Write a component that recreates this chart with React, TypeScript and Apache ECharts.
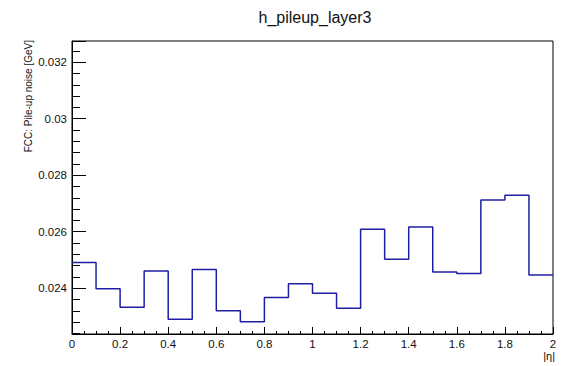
import React, { useEffect, useRef } from "react";
import * as echarts from "echarts";

const title = "h_pileup_layer3";
const yAxisTitle = "FCC: Pile-up noise [GeV]";
const xAxisTitle = "|η|";

// lower edges of the 20 |eta| bins (width 0.1)
const binLowEdges = [0, 0.1, 0.2, 0.3, 0.4, 0.5, 0.6, 0.7, 0.8, 0.9, 1.0, 1.1, 1.2, 1.3, 1.4, 1.5, 1.6, 1.7, 1.8, 1.9];
const binUpperEnd = 2;
const binValues = [
  0.02491, 0.02398, 0.02333, 0.02461, 0.0229, 0.02466, 0.0232, 0.02281, 0.02367, 0.02416,
  0.02382, 0.02329, 0.02609, 0.02503, 0.02617, 0.02457, 0.02452, 0.02712, 0.02729, 0.02447,
];

const yMin = 0.02238;
const yMax = 0.03275;

export default function App() {
  const ref = useRef<HTMLDivElement>(null);
  useEffect(() => {
    document.body.style.margin = "0";
    if (!ref.current) return;
    const chart = echarts.init(ref.current, undefined, { renderer: "svg" });
    const stepData: [number, number][] = binLowEdges.map((x, i) => [x, binValues[i]]);
    stepData.push([binUpperEnd, binValues[binValues.length - 1]]);
    const font = "Liberation Sans, Arial, Helvetica, sans-serif";
    chart.setOption({
      animation: false,
      backgroundColor: "#ffffff",
      title: {
        text: title,
        left: 310,
        top: 4,
        textAlign: "center",
        textStyle: { fontFamily: font, fontSize: 16, fontWeight: "normal", color: "#111" },
      },
      grid: {
        left: 72,
        right: 11,
        top: 41,
        bottom: 32,
        show: true,
        borderColor: "#000",
        borderWidth: 1,
        backgroundColor: "transparent",
      },
      xAxis: {
        type: "value",
        min: 0,
        max: 2,
        interval: 0.2,
        axisLine: { show: true, onZero: false, lineStyle: { color: "#000", width: 1 } },
        axisTick: { show: true, inside: true, length: 7, lineStyle: { color: "#000" } },
        minorTick: { show: true, splitNumber: 4, length: 3, lineStyle: { color: "#000" } },
        splitLine: { show: false },
        minorSplitLine: { show: false },
        axisLabel: {
          margin: 4,
          fontFamily: font,
          fontSize: 11.5,
          color: "#111",
          formatter: (v: number) => String(Math.round(v * 10) / 10),
        },
      },
      yAxis: {
        type: "value",
        min: yMin,
        max: yMax,
        splitNumber: 5,
        axisLine: { show: true, onZero: false, lineStyle: { color: "#000", width: 1 } },
        axisTick: { show: true, inside: true, length: 14, lineStyle: { color: "#000" } },
        minorTick: { show: true, splitNumber: 5, length: 8, lineStyle: { color: "#000" } },
        splitLine: { show: false },
        minorSplitLine: { show: false },
        axisLabel: {
          margin: 5,
          showMinLabel: false,
          showMaxLabel: false,
          fontFamily: font,
          fontSize: 11.5,
          color: "#111",
          formatter: (v: number) => String(Math.round(v * 1000) / 1000),
        },
      },
      graphic: [
        {
          type: "text",
          x: 28,
          y: 40,
          rotation: Math.PI / 2,
          style: {
            text: yAxisTitle,
            fontFamily: font,
            fontSize: 10,
            fill: "#111",
            textAlign: "right",
            textVerticalAlign: "middle",
          },
        },
        {
          type: "text",
          x: 555,
          y: 356,
          style: {
            text: xAxisTitle,
            fontFamily: font,
            fontSize: 11,
            fill: "#111",
            textAlign: "right",
            textVerticalAlign: "middle",
          },
        },
      ],
      series: [
        {
          type: "line",
          step: "end",
          data: stepData,
          showSymbol: false,
          symbol: "none",
          lineStyle: { color: "#1e1ea4", width: 1.5 },
          silent: true,
        },
      ],
    });
    return () => chart.dispose();
  }, []);
  return <div ref={ref} style={{ width: 564, height: 366 }} />;
}
